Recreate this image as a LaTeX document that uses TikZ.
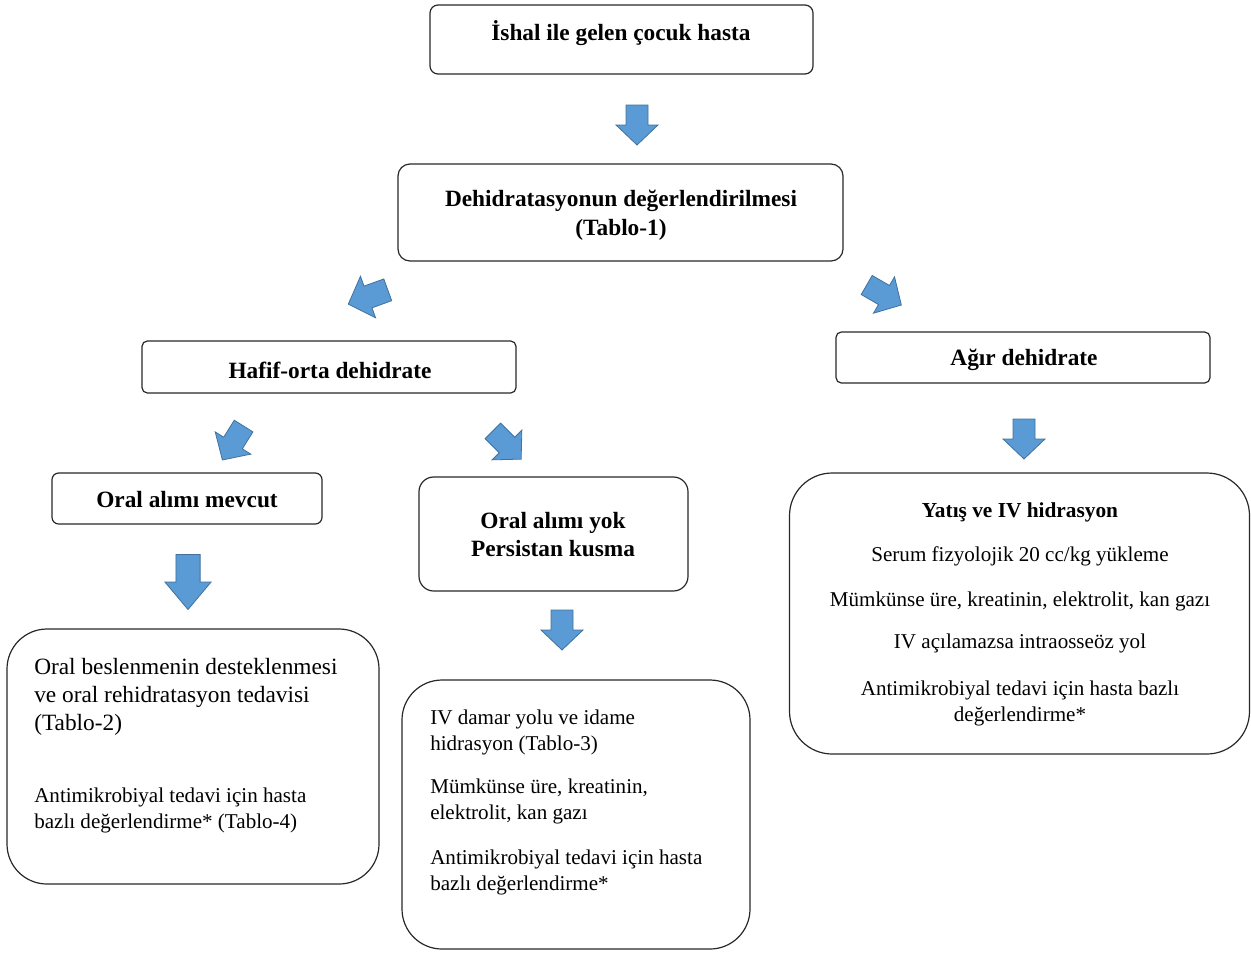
\documentclass[tikz,border=0pt]{standalone}
\usepackage{fontspec}
\setmainfont{Liberation Serif}
\definecolor{arrowfill}{RGB}{91,155,213}
\definecolor{arrowdraw}{RGB}{65,113,156}
\definecolor{boxline}{RGB}{40,40,40}
\tikzset{
  box/.style={draw=boxline, line width=0.9pt, fill=white, inner sep=0pt, outer sep=0pt},
  head/.style={font=\fontsize{17.5}{21}\selectfont\bfseries, align=center, inner sep=0pt},
  bigtxt/.style={font=\fontsize{17.5}{21}\selectfont, align=left, inner sep=0pt, anchor=west},
  smalltxt/.style={font=\fontsize{15.8}{19.5}\selectfont, align=left, inner sep=0pt, anchor=west},
  ctxt/.style={font=\fontsize{15.8}{19.5}\selectfont, align=center, inner sep=0pt},
  pics/barrow/.style={code={
    \fill[arrowfill, draw=arrowdraw, line width=0.6pt, line join=miter]
      (-11,-20) -- (11,-20) -- (11,0) -- (21,0) -- (0,20) -- (-21,0) -- (-11,0) -- cycle;}}
}
\begin{document}
\begin{tikzpicture}[x=0.75pt, y=-0.75pt]
\useasboundingbox (0,0) rectangle (1251,953);

% boxes
\node[box, rounded corners=6pt, minimum width=383*0.75pt, minimum height=69*0.75pt] (b1) at (621.5,39.5) {};
\node[box, rounded corners=9pt, minimum width=445*0.75pt, minimum height=97*0.75pt] (b2) at (620.5,212.5) {};
\node[box, rounded corners=4pt, minimum width=374*0.75pt, minimum height=52*0.75pt] (b3) at (329,367) {};
\node[box, rounded corners=4pt, minimum width=374*0.75pt, minimum height=51*0.75pt] (b4) at (1023,357.5) {};
\node[box, rounded corners=5pt, minimum width=270*0.75pt, minimum height=51*0.75pt] (b5) at (187,498.5) {};
\node[box, rounded corners=11pt, minimum width=269*0.75pt, minimum height=114*0.75pt] (b6) at (553.5,534) {};
\node[box, rounded corners=30pt, minimum width=372*0.75pt, minimum height=255*0.75pt] (b7) at (193,756.5) {};
\node[box, rounded corners=30pt, minimum width=348*0.75pt, minimum height=269*0.75pt] (b8) at (576,814.5) {};
\node[box, rounded corners=32pt, minimum width=460*0.75pt, minimum height=281*0.75pt] (b9) at (1019.5,613.5) {};

% texts
\node[head] (t1) at (621,33) {İshal ile gelen çocuk hasta};
\node[head, font=\fontsize{17.5}{21.75}\selectfont\bfseries] (t2) at (621,215) {Dehidratasyonun değerlendirilmesi\\(Tablo-1)};
\node[head] (t3) at (330,370) {Hafif-orta dehidrate};
\node[head] (t4) at (1024,360) {Ağır dehidrate};
\node[head] (t5) at (187,500) {Oral alımı mevcut};
\node[head, font=\fontsize{17.5}{21}\selectfont\bfseries] (t6) at (553,535) {Oral alımı yok\\Persistan kusma};

\node[bigtxt] (t7) at (34,697) {Oral beslenmenin desteklenmesi\\ve oral rehidratasyon tedavisi\\(Tablo-2)};
\node[smalltxt] (t8) at (34,810.5) {Antimikrobiyal tedavi için hasta\\bazlı değerlendirme* (Tablo-4)};

\node[smalltxt] (t9) at (430,732) {IV damar yolu ve idame\\hidrasyon (Tablo-3)};
\node[smalltxt] (t10) at (430,801.5) {Mümkünse üre, kreatinin,\\elektrolit, kan gazı};
\node[smalltxt] (t11) at (430,872.5) {Antimikrobiyal tedavi için hasta\\bazlı değerlendirme*};

\node[head, font=\fontsize{16}{19.5}\selectfont\bfseries] (t12) at (1020,512) {Yatış ve IV hidrasyon};
\node[ctxt] (t13) at (1020,556.5) {Serum fizyolojik 20 cc/kg yükleme};
\node[ctxt] (t14) at (1020,601.5) {Mümkünse üre, kreatinin, elektrolit, kan gazı};
\node[ctxt] (t15) at (1020,643.5) {IV açılamazsa intraosseöz yol};
\node[ctxt] (t16) at (1020,703) {Antimikrobiyal tedavi için hasta bazlı\\değerlendirme*};

% block arrows
\pic at (637,125) {barrow};
\pic[rotate=-70, scale=1.05] at (368,297) {barrow};
\pic[rotate=60, scale=1.0] at (884,295) {barrow};
\pic[rotate=-32] at (233,443) {barrow};
\pic[rotate=45] at (507,445) {barrow};
\pic at (1024,439) {barrow};
\pic[xscale=1.1, yscale=1.375] at (188,582) {barrow};
\pic at (562,630) {barrow};
\end{tikzpicture}
\end{document}
